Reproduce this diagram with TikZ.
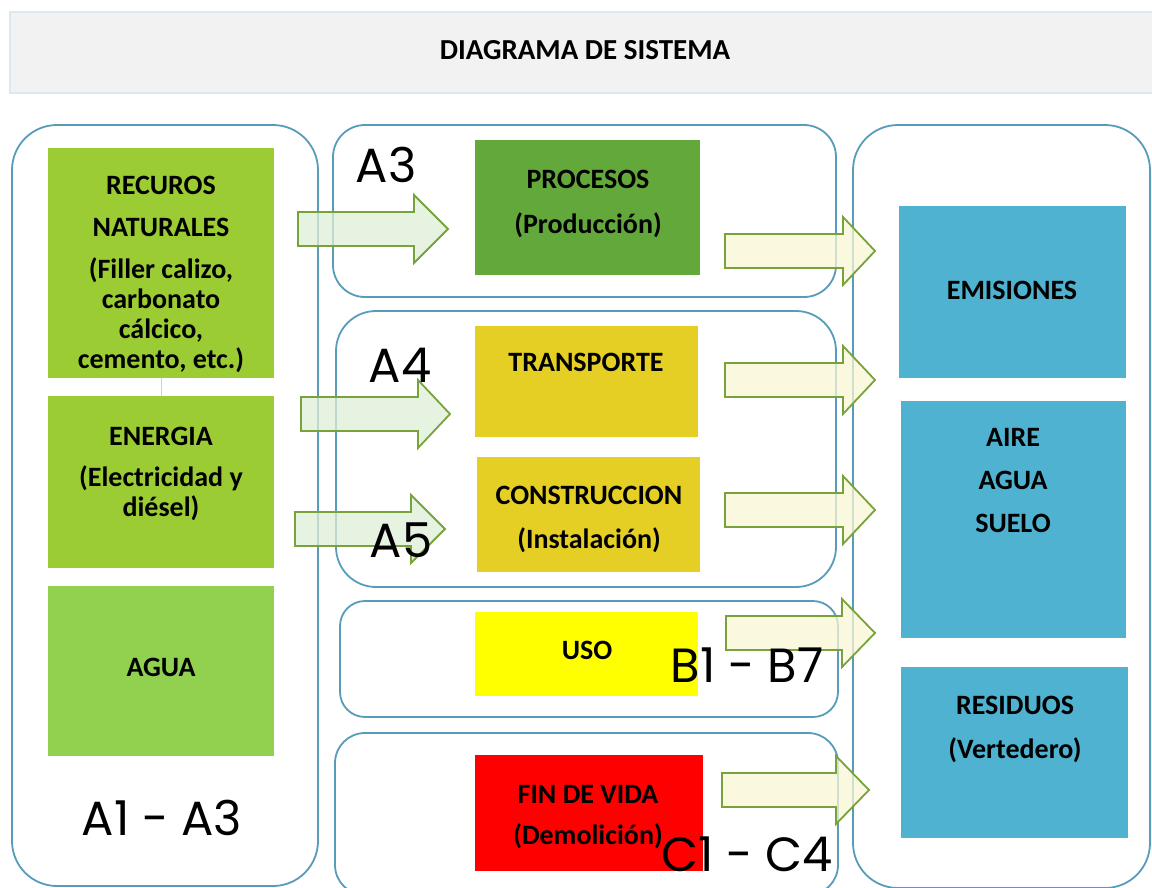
\documentclass[tikz,border=0pt]{standalone}
\usepackage{fontspec}
\setmainfont{Carlito}
\newfontfamily\etapafont{Poppins}
\usetikzlibrary{positioning}

\definecolor{marcoazul}{RGB}{88,155,186}
\definecolor{bordetitulo}{RGB}{218,232,240}
\definecolor{fondotitulo}{RGB}{242,242,242}
\definecolor{verdehoja}{RGB}{155,204,52}
\definecolor{verdeagua}{RGB}{146,208,80}
\definecolor{verdeproceso}{RGB}{99,168,58}
\definecolor{mostaza}{RGB}{229,207,36}
\definecolor{amarillo}{RGB}{255,255,0}
\definecolor{rojo}{RGB}{255,0,0}
\definecolor{celeste}{RGB}{78,178,208}
\definecolor{bordeflecha}{RGB}{119,163,58}
\definecolor{verdeclaro}{RGB}{221,239,214}
\definecolor{crema}{RGB}{249,245,214}
\definecolor{grisclaro}{RGB}{210,210,210}

\tikzset{titulo/.style={draw=bordetitulo, fill=fondotitulo, line width=1.5pt, inner sep=0pt, text depth=5pt, font=\bfseries\fontsize{29}{31}\selectfont},
  marco/.style={draw=marcoazul, line width=1.8pt},
  caja/.style={inner sep=0pt, draw=none},
  texto/.style={inner sep=0pt, align=center, font=\bfseries\fontsize{28}{30}\selectfont},
  etapa/.style={inner sep=0pt, font=\etapafont\fontsize{48}{50}\selectfont},
  entrada/.style={draw=bordeflecha, fill=verdeclaro, fill opacity=0.75, line width=1.8pt, line join=miter},
  salida/.style={draw=bordeflecha, fill=crema, fill opacity=0.75, line width=1.8pt, line join=miter}}

% style, start x, head x, centre y, tip x
\newcommand{\flecha}[5]{%
  \draw[#1] (#2,#4-17) -- (#3,#4-17) -- (#3,#4-34) -- (#5,#4)
    -- (#3,#4+34) -- (#3,#4+17) -- (#2,#4+17) -- cycle;}

\begin{document}
\begin{tikzpicture}[x=1pt,y=-1pt]
  \useasboundingbox (0,0) rectangle (1152,887);
  \clip (0,0) rectangle (1152,887);

  \node[titulo, minimum width=1150, minimum height=81] (titulo) at (585,52.5) {DIAGRAMA DE SISTEMA};

  % marcos
  \draw[marco, rounded corners=45] (12,125) rectangle (318,886);
  \draw[marco, rounded corners=32] (333,125) rectangle (836,297);
  \draw[marco, rounded corners=40] (336,311) rectangle (836,587);
  \draw[marco, rounded corners=25] (340,601) rectangle (838,717);
  \draw[marco, rounded corners=30] (335,733) rectangle (838,895);
  \draw[marco, rounded corners=45] (853,125) rectangle (1150,888);

  % entradas
  \node[caja, fill=verdehoja, minimum width=226, minimum height=230] (recursos) at (161,263) {};
  \node[caja, fill=verdehoja, minimum width=226, minimum height=172] (energia) at (161,482) {};
  \node[caja, fill=verdeagua, minimum width=226, minimum height=170] (agua) at (161,671) {};
  \draw[grisclaro, line width=1pt] (recursos) -- (energia);

  % etapas
  \node[caja, fill=verdeproceso, minimum width=225, minimum height=135] (procesos) at (587.5,207.5) {};
  \node[caja, fill=mostaza, minimum width=223, minimum height=111] (transporte) at (586.5,381.5) {};
  \node[caja, fill=mostaza, minimum width=223, minimum height=115] (construccion) at (588.5,514.5) {};
  \node[caja, fill=amarillo, minimum width=223, minimum height=84] (uso) at (586.5,654) {};
  \node[caja, fill=rojo, minimum width=228, minimum height=116] (fin) at (589,813) {};

  % salidas
  \node[caja, fill=celeste, minimum width=227, minimum height=172] (emisiones) at (1012.5,292) {};
  \node[caja, fill=celeste, minimum width=225, minimum height=237] (medio) at (1013.5,519.5) {};
  \node[caja, fill=celeste, minimum width=227, minimum height=171] (residuos) at (1014.5,752.5) {};

  % textos
  \node[texto] (t-recursos) at (161,274) {RECUROS\\[12pt] NATURALES\\[12pt] (Filler calizo,\\ carbonato\\ cálcico,\\ cemento, etc.)};
  \node[texto] (t-energia) at (161,474) {ENERGIA\\[11pt] (Electricidad y\\ diésel)};
  \node[texto] (t-agua) at (161,667) {AGUA};
  \node[texto] (t-procesos) at (588,204) {PROCESOS\\[15pt] (Producción)};
  \node[texto] (t-transporte) at (586,362) {TRANSPORTE};
  \node[texto] (t-construccion) at (589,519.5) {CONSTRUCCION\\[14pt] (Instalación)};
  \node[texto] (t-uso) at (587,650) {USO};
  \node[texto] (t-fin) at (588,817) {FIN DE VIDA\\[11pt] (Demolición)};
  \node[texto] (t-emisiones) at (1012,290) {EMISIONES};
  \node[texto] (t-medio) at (1013,481) {AIRE\\[13pt] AGUA\\[13pt] SUELO};
  \node[texto] (t-residuos) at (1015,729.5) {RESIDUOS\\[14pt] (Vertedero)};

  % flechas
  \flecha{entrada}{298}{414}{229}{448}
  \flecha{entrada}{301}{418}{414}{450}
  \flecha{entrada}{295}{411}{529}{445}
  \flecha{salida}{725}{843}{251}{875}
  \flecha{salida}{725}{843}{380}{875}
  \flecha{salida}{725}{843}{510}{875}
  \flecha{salida}{726}{842}{633}{875}
  \flecha{salida}{722}{836}{790}{869}

  % etiquetas
  \node[etapa] (a13) at (162,818) {A1 - A3};
  \node[etapa] (a3) at (386,165) {A3};
  \node[etapa] (a4) at (400,365) {A4};
  \node[etapa] (a5) at (401,540) {A5};
  \node[etapa] (b17) at (747,665) {B1 - B7};
  \node[etapa] (c14) at (747,854) {C1 - C4};
\end{tikzpicture}
\end{document}
